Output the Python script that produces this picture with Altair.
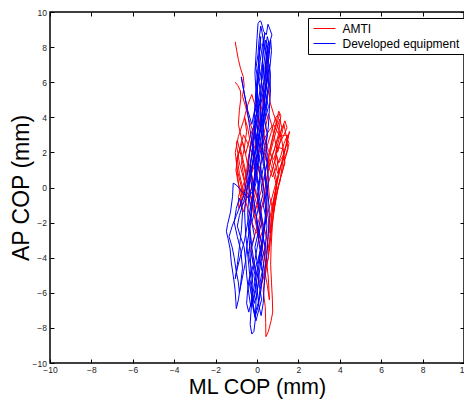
import altair as alt
import pandas as pd

# ML (x) / AP (y) centre-of-pressure traces (mm)
amti = [
    (-1.05, 8.30), (-0.98, 7.80), (-0.90, 7.30), (-0.80, 6.80), (-0.66, 6.30), (-0.62, 5.80), (-0.70, 5.20), (-0.55, 4.60), (-0.40, 3.90), (-0.20, 3.20),
    (0.05, 2.60), (0.35, 1.90), (0.60, 1.30), (0.85, 2.20), (1.05, 3.10), (1.15, 4.10), (1.05, 4.35), (0.90, 3.60), (0.70, 2.60), (0.45, 1.20),
    (0.20, -0.20), (-0.10, -1.40), (-0.35, -0.80), (-0.60, 0.30), (-0.85, 1.40), (-1.00, 2.50), (-0.95, 2.70), (-0.75, 1.70), (-0.50, 0.50), (-0.20, -0.90),
    (0.05, -2.20), (0.25, -3.40), (0.45, -4.50), (0.55, -4.00), (0.62, -2.80), (0.72, -1.60), (0.85, -0.40), (1.05, 0.70), (1.25, 1.70), (1.45, 2.60),
    (1.57, 3.20), (1.50, 2.80), (1.35, 2.10), (1.15, 1.20), (0.90, 0.20), (0.65, -0.90), (0.40, -2.00), (0.15, -2.90), (-0.15, -2.30), (-0.45, -1.20),
    (-0.75, 0.00), (-0.95, 1.00), (-1.05, 2.00), (-0.90, 2.90), (-0.65, 3.80), (-0.45, 4.70), (-0.25, 5.30), (-0.05, 4.50), (0.15, 3.40), (0.40, 2.30),
    (0.70, 1.20), (0.95, 0.10), (0.80, -1.30), (0.68, -2.70), (0.55, -3.90), (0.40, -5.00), (0.30, -5.90), (0.40, -6.80), (0.42, -7.70), (0.43, -8.50),
    (0.55, -8.20), (0.68, -7.60), (0.76, -7.10), (0.74, -6.30), (0.70, -5.40), (0.66, -4.40), (0.68, -3.40), (0.74, -2.20), (0.85, -1.00), (1.00, 0.00),
    (1.10, 0.30), (1.20, 1.10), (1.30, 1.90), (1.20, 2.70), (1.00, 3.50), (0.80, 4.20), (0.62, 4.90), (0.60, 5.40), (0.55, 6.20), (0.50, 7.00),
    (0.52, 8.00), (0.45, 7.20), (0.35, 6.00), (0.25, 4.80), (0.10, 3.60), (-0.10, 2.40), (-0.35, 1.30), (-0.65, 0.20), (-0.90, -0.50), (-0.88, -1.20),
    (-0.70, -0.60), (-0.55, 0.60), (-0.40, 1.80), (-0.20, 2.90), (0.05, 3.90), (0.30, 3.10), (0.55, 2.10), (0.80, 1.60), (1.05, 2.40), (1.30, 3.00),
    (1.45, 3.40), (1.35, 3.80), (1.15, 3.20), (0.90, 2.40), (0.65, 1.50), (0.45, 0.40), (0.30, -0.80), (0.10, -1.80), (-0.10, -2.70), (-0.30, -3.40),
    (-0.20, -4.20), (0.00, -5.00), (0.20, -5.60), (0.35, -5.00), (0.45, -3.80), (0.55, -2.40), (0.70, -1.20), (0.90, -0.20), (1.05, 0.90), (0.95, 1.80),
    (0.70, 0.90), (0.45, -0.20), (0.20, -1.20), (-0.05, -0.40), (-0.30, 0.80), (-0.10, 1.60), (0.20, 2.40), (0.50, 3.10), (0.80, 3.60), (1.10, 2.90),
    (1.40, 3.00), (1.55, 2.50), (1.40, 1.90), (1.20, 1.40), (1.00, 0.80), (0.85, 1.50), (1.00, 2.30), (1.25, 2.20), (1.35, 1.40), (1.15, 0.60),
    (0.95, -0.40), (0.80, -1.40), (0.60, -0.50), (0.50, 0.80), (0.60, 2.00), (0.80, 3.00), (1.00, 3.80), (1.10, 4.20), (0.90, 4.00), (0.70, 3.20),
    (0.50, 2.40), (0.20, 1.40), (-0.10, 0.40), (-0.40, -0.40), (-0.70, -1.00), (-0.85, -0.20), (-0.95, 0.80), (-1.00, 1.60), (-0.80, 2.20), (-0.60, 1.20),
    (-0.40, 0.00), (-0.20, -1.20), (0.00, -2.40), (0.20, -3.60), (0.35, -4.60), (0.50, -5.60), (0.60, -6.40), (0.55, -5.20), (0.45, -4.00), (0.30, -2.80),
    (0.15, -1.60), (-0.10, -0.60), (-0.35, 0.60), (-0.55, 1.90), (-0.40, 2.60), (-0.20, 3.40), (0.00, 2.80), (0.25, 2.00), (0.50, 1.40), (0.75, 0.60),
    (0.95, 1.20), (1.15, 1.80), (1.30, 2.50), (1.48, 3.00), (1.40, 2.40), (1.25, 1.80), (1.05, 1.40), (0.90, 2.00), (1.05, 2.70), (1.20, 3.40),
    (1.10, 3.90), (0.95, 3.30), (0.80, 2.70), (0.65, 2.00), (0.80, 1.20), (0.95, 0.40), (0.85, -0.60), (0.70, -1.60), (0.62, -2.60), (0.55, -1.80),
    (0.45, -0.80), (0.30, 0.20), (0.10, 1.00), (-0.15, 1.80), (-0.40, 2.40), (-0.65, 3.00), (-0.80, 2.40), (-0.95, 1.60), (-0.85, 0.80), (-0.70, 0.00),
    (-0.80, -0.80), (-0.65, -1.40), (-0.50, -0.60), (-0.60, 0.40), (-0.75, 1.40), (-0.62, 2.20), (-0.50, 3.20), (-0.60, 4.00), (-0.45, 3.40), (-0.30, 2.40),
    (-0.45, 1.40), (-0.35, 1.20), (-0.15, 0.20), (0.05, -0.80), (0.25, -1.80), (0.45, -2.80), (0.60, -3.60), (0.65, -2.60), (0.75, -1.80), (0.90, -0.80),
    (1.05, 0.20), (1.20, 0.80), (1.35, 1.60), (1.50, 2.20), (1.42, 2.90), (1.30, 3.60), (1.15, 2.80), (1.00, 2.00), (0.85, 2.80), (0.70, 3.60),
    (0.55, 4.20), (0.40, 3.40), (0.25, 2.60), (0.05, 1.80), (-0.20, 1.00), (-0.45, 0.20), (-0.70, -0.40), (-0.90, 0.20), (-1.02, 1.00), (-0.90, 1.90),
    (-0.70, 2.60), (-0.55, 1.90), (-0.75, 2.80), (-0.90, 3.60), (-0.85, 4.40), (-0.78, 5.10), (-0.80, 5.50), (-0.92, 5.80), (-1.05, 6.00),
]

developed = [
    (0.10, 0.00), (0.20, 1.50), (0.28, 3.00), (0.35, 4.50), (0.42, 6.00), (0.50, 7.20), (0.60, 8.20), (0.72, 8.70), (0.60, 9.10), (0.53, 9.30),
    (0.45, 8.70), (0.32, 8.90), (0.20, 9.45), (0.14, 9.50), (0.05, 9.35), (0.00, 8.50), (-0.05, 7.50), (-0.10, 6.50), (-0.05, 5.50), (0.00, 4.50),
    (-0.10, 3.50), (-0.20, 2.50), (-0.30, 1.50), (-0.35, 0.50), (-0.40, -0.50), (-0.45, -1.50), (-0.40, -2.50), (-0.35, -3.50), (-0.30, -4.50), (-0.20, -5.50),
    (-0.25, -6.50), (-0.30, -7.20), (-0.33, -7.80), (-0.25, -8.35), (-0.15, -8.20), (-0.08, -7.50), (-0.05, -6.50), (0.05, -5.50), (0.15, -4.50), (0.25, -3.50),
    (0.35, -2.50), (0.45, -1.50), (0.50, -0.50), (0.55, 0.50), (0.50, 1.50), (0.45, 2.50), (0.55, 3.50), (0.60, 4.50), (0.65, 5.50), (0.62, 6.80),
    (0.70, 7.80), (0.66, 8.40), (0.58, 7.60), (0.50, 6.40), (0.40, 5.20), (0.25, 4.00), (0.10, 2.80), (0.00, 1.60), (-0.10, 0.40), (-0.20, -0.80),
    (-0.30, -2.00), (-0.45, -3.00), (-0.55, -4.00), (-0.50, -5.00), (-0.40, -6.00), (-0.30, -6.80), (-0.15, -6.20), (0.00, -5.20), (0.15, -4.00), (0.30, -2.80),
    (0.40, -1.60), (0.45, -0.40), (0.40, 0.80), (0.30, 2.00), (0.20, 3.20), (0.15, 4.40), (0.20, 5.60), (0.25, 6.80), (0.30, 8.00), (0.38, 8.80),
    (0.28, 8.20), (0.15, 7.20), (0.05, 6.00), (-0.05, 4.80), (-0.25, 3.60), (-0.45, 4.40), (-0.62, 5.40), (-0.76, 6.30), (-0.65, 5.60), (-0.50, 4.60),
    (-0.35, 3.40), (-0.20, 2.20), (-0.10, 1.00), (-0.20, -0.20), (-0.45, -0.60), (-0.75, -0.20), (-1.00, 0.15), (-1.15, 0.25), (-1.18, -0.50), (-1.28, -1.40),
    (-1.42, -2.10), (-1.48, -2.50), (-1.40, -2.90), (-1.30, -3.50), (-1.24, -4.30), (-1.15, -5.00), (-1.06, -5.80), (-1.02, -6.50), (-1.00, -6.90), (-0.90, -6.40),
    (-0.80, -5.60), (-0.70, -4.60), (-0.78, -3.60), (-0.95, -2.80), (-1.10, -2.00), (-1.00, -1.20), (-0.85, -0.60), (-0.70, -1.40), (-0.75, -2.40), (-0.85, -3.40),
    (-0.95, -4.40), (-1.05, -5.20), (-0.95, -4.60), (-0.78, -3.80), (-0.60, -3.00), (-0.45, -2.00), (-0.30, -1.00), (-0.15, 0.00), (0.00, 1.00), (0.10, 2.20),
    (0.25, 3.40), (0.40, 4.60), (0.55, 5.80), (0.60, 7.00), (0.50, 6.20), (0.35, 5.00), (0.20, 3.80), (0.05, 2.60), (-0.05, 1.40), (-0.15, 0.20),
    (-0.25, -1.00), (-0.35, -2.20), (-0.25, -3.40), (-0.10, -4.60), (0.00, -5.80), (0.10, -6.80), (0.20, -7.30), (0.30, -6.60), (0.35, -5.60), (0.40, -4.60),
    (0.50, -3.60), (0.55, -2.60), (0.60, -1.60), (0.55, -0.60), (0.45, 0.40), (0.35, 1.40), (0.25, 2.40), (0.30, 3.40), (0.45, 4.40), (0.50, 5.40),
    (0.40, 6.60), (0.45, 7.60), (0.55, 8.30), (0.45, 7.00), (0.30, 5.80), (0.10, 4.60), (-0.05, 3.40), (-0.20, 2.20), (-0.35, 1.00), (-0.50, -0.20),
    (-0.60, -1.40), (-0.55, -2.60), (-0.45, -3.80), (-0.35, -5.00), (-0.45, -5.80), (-0.50, -6.60), (-0.40, -7.10), (-0.25, -6.40), (-0.10, -5.40), (0.05, -4.40),
    (0.20, -3.40), (0.30, -2.40), (0.20, -1.40), (0.10, -0.40), (0.00, 0.60), (-0.10, 1.80), (0.00, 3.00), (0.10, 4.20), (0.00, 5.40), (0.05, 6.60),
    (0.12, 7.80), (0.18, 8.60), (0.10, 7.40), (0.00, 6.20), (-0.08, 5.00), (-0.15, 3.80), (-0.05, 2.60), (0.15, 1.40), (0.30, 0.20), (0.40, -1.00),
    (0.48, -2.20), (0.40, -3.40), (0.30, -4.60), (0.20, -5.80), (0.05, -6.80), (-0.10, -7.40), (-0.20, -6.80), (-0.30, -5.80), (-0.20, -4.80), (-0.05, -3.80),
    (0.10, -2.80), (0.00, -1.80), (-0.15, -0.80), (-0.30, 0.40), (-0.20, 1.60), (0.00, 2.60), (0.20, 3.60), (0.30, 4.80), (0.35, 6.00), (0.30, 7.00),
    (0.20, 6.20), (0.30, 5.40), (0.15, 4.60), (0.25, 3.80), (0.10, 3.00), (0.20, 2.20), (0.05, 1.40), (0.15, 0.60), (0.00, -0.20), (0.10, -1.00),
    (-0.05, -1.80), (0.05, -2.60), (-0.10, -3.40), (0.00, -4.20), (-0.15, -5.00), (-0.05, -5.80), (-0.20, -6.60), (-0.10, -7.20), (0.05, -6.60), (0.15, -5.80),
    (0.30, -5.00), (0.20, -4.20), (0.40, -3.40), (0.25, -2.60), (0.45, -1.80), (0.30, -1.00), (0.50, -0.20), (0.35, 0.60), (0.50, 1.40), (0.35, 2.20),
    (0.50, 3.00), (0.38, 3.80), (0.55, 4.60), (0.40, 5.40), (0.52, 6.20), (0.42, 7.00), (0.50, 7.80), (0.40, 8.40), (0.30, 7.60), (0.22, 6.80),
    (0.10, 6.00), (0.18, 5.20), (0.02, 4.40), (0.12, 3.60), (-0.05, 2.80), (0.05, 2.00), (-0.12, 1.20), (-0.02, 0.40), (-0.20, -0.40), (-0.08, -1.20),
    (-0.25, -2.00), (-0.12, -2.80), (-0.30, -3.60), (-0.18, -4.40), (-0.35, -5.20), (-0.22, -6.00), (-0.12, -6.60), (0.00, -6.00), (0.10, -5.20), (0.00, -4.40),
    (0.15, -3.60), (0.05, -2.80), (0.22, -2.00), (0.12, -1.20), (0.28, -0.40), (0.18, 0.40), (0.32, 1.20), (0.22, 2.00), (0.35, 2.80), (0.28, 3.60),
    (0.40, 4.40), (0.32, 5.20), (0.45, 6.00), (0.38, 6.80), (0.48, 7.40), (0.35, 8.00), (0.25, 8.80), (0.18, 9.20), (0.10, 8.40), (0.05, 7.60),
    (-0.05, 6.80), (0.05, 6.00), (-0.08, 5.20), (0.02, 4.40), (-0.15, 3.60), (-0.25, 2.80), (-0.35, 2.00), (-0.42, 1.20), (-0.50, 0.40), (-0.62, -0.40),
    (-0.80, -1.00), (-1.00, -1.60), (-1.20, -2.20), (-1.35, -2.80), (-1.20, -3.40), (-1.10, -4.00), (-1.00, -4.80), (-0.90, -5.40), (-0.85, -6.00), (-0.75, -5.40),
    (-0.65, -4.80), (-0.55, -4.20), (-0.62, -3.40), (-0.80, -2.80), (-0.95, -2.20), (-0.85, -1.60), (-0.65, -0.80), (-0.45, 0.00), (-0.30, 0.80), (-0.15, 1.60),
    (0.00, 2.40), (0.15, 3.20), (0.30, 4.00), (0.45, 4.80), (0.58, 5.60), (0.65, 6.40), (0.55, 7.20), (0.62, 8.00), (0.50, 8.60), (0.42, 8.00),
    (0.35, 7.20), (0.28, 6.40), (0.15, 5.60), (0.05, 4.80), (-0.05, 4.00), (0.05, 3.20), (-0.05, 2.40), (0.08, 1.60), (-0.02, 0.80), (0.12, 0.00),
    (0.02, -0.80), (0.18, -1.60), (0.08, -2.40), (0.22, -3.20), (0.10, -4.00), (0.25, -4.80), (0.12, -5.60), (0.22, -6.40), (0.08, -7.00), (-0.05, -7.60),
    (-0.15, -7.00), (-0.25, -6.20), (-0.38, -5.40), (-0.28, -4.60), (-0.42, -3.80), (-0.30, -3.00), (-0.40, -2.20), (-0.28, -1.40), (-0.38, -0.60), (-0.22, 0.20),
    (-0.30, 1.00), (-0.12, 1.80), (-0.22, 2.60), (-0.05, 3.40), (-0.12, 4.20), (0.05, 5.00), (0.00, 5.80), (0.12, 6.60), (0.08, 7.40), (0.20, 8.20),
]

series_names = ["AMTI", "Developed equipment"]
series_colors = ["#ff0000", "#0000ff"]
tick_values = [-10, -8, -6, -4, -2, 0, 2, 4, 6, 8, 10]

rows = []
for name, pts in zip(series_names, [amti, developed]):
    for i, (mx, ay) in enumerate(pts):
        rows.append({"series": name, "i": i, "ml": mx, "ap": ay})
df = pd.DataFrame(rows)
ticks_df = pd.DataFrame({"t": tick_values})

FONT = "Liberation Sans, Arial, Helvetica, sans-serif"


def sc():
    return alt.Scale(domain=[-10, 10], nice=False, zero=False)


common = dict(values=tick_values, grid=False, domain=False, tickSize=4, tickColor="black",
              tickWidth=1, offset=-4, labelFont=FONT, labelFontSize=8.5, labelColor="#222222",
              labelFlush=False, titleFont=FONT, titleFontWeight="normal", titleColor="black")

lines = alt.Chart(df).mark_line(strokeWidth=1).encode(
    x=alt.X("ml:Q", scale=sc(),
            axis=alt.Axis(orient="bottom", title="ML COP (mm)", labelPadding=2,
                          titleFontSize=21.5, titleBaseline="alphabetic", titleY=34.5, **common)),
    y=alt.Y("ap:Q", scale=sc(),
            axis=alt.Axis(orient="left", title="AP COP (mm)", labelPadding=3.5,
                          titleFontSize=23, titleBaseline="alphabetic", titleX=-25.5, **common)),
    color=alt.Color("series:N",
                    scale=alt.Scale(domain=series_names, range=series_colors),
                    legend=alt.Legend(title=None, orient="none", legendX=258, legendY=6,
                                      symbolType="M-1,0H3.4", symbolSize=100, symbolStrokeWidth=1,
                                      labelFont=FONT, labelFontSize=12, labelColor="black",
                                      labelOffset=18, rowPadding=3, padding=4.5,
                                      strokeColor="black", fillColor="white")),
    order="i:Q",
)

frame_common = dict(values=tick_values, grid=False, domain=False, tickSize=4, tickColor="black",
                    tickWidth=1, offset=-4, labels=False, title=None)

frame = alt.Chart(ticks_df).mark_point(opacity=0).encode(
    x=alt.X("t:Q", scale=sc(), axis=alt.Axis(orient="top", **frame_common)),
    y=alt.Y("t:Q", scale=sc(), axis=alt.Axis(orient="right", **frame_common)),
)

chart = alt.layer(lines, frame).resolve_scale(x="independent", y="independent").properties(
    width=414, height=351,
    autosize=alt.AutoSizeParams(type="none"),
    padding={"left": 42, "top": 4, "right": 0, "bottom": 36},
    background="white",
).configure_view(stroke="black", strokeWidth=1.5)

chart.save("out.html", embed_options={"renderer": "svg", "actions": False})
